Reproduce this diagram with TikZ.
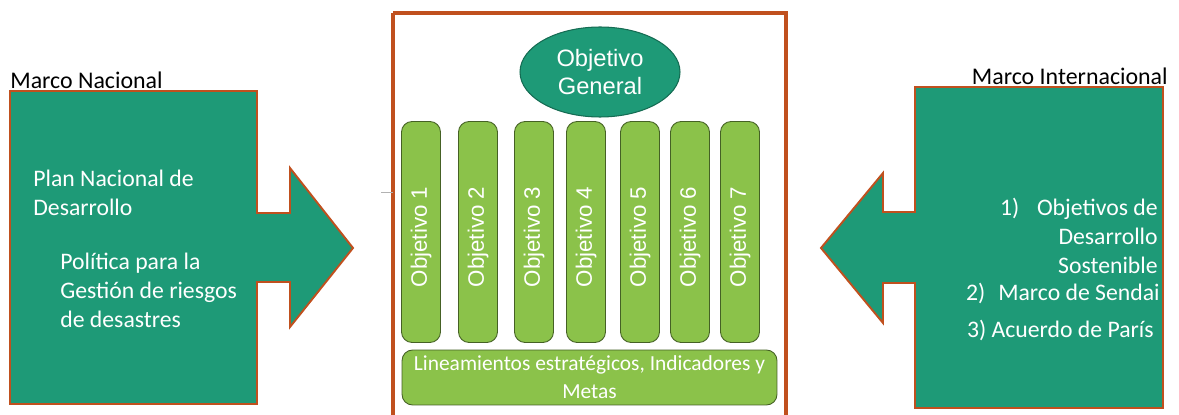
\documentclass[tikz,border=0pt]{standalone}
\usepackage{fontspec}
\setmainfont{Carlito}
\newfontfamily\arialfont{Liberation Sans}
\usetikzlibrary{shapes.geometric}
\definecolor{teal1}{HTML}{1E9A77}
\definecolor{lime1}{HTML}{8BC24A}
\definecolor{rust}{HTML}{C0501E}
\tikzset{
  arrowbox/.style={fill=teal1,draw=rust,line width=1.1pt,line join=miter},
  frame/.style={draw=rust,line width=2pt},
  objbar/.style={fill=lime1,draw=lime1!50!black,line width=0.5pt,rounded corners=6pt,
    minimum width=0.78cm,minimum height=4.42cm,inner sep=0pt},
  objlabel/.style={rotate=90,inner sep=0pt,text=white,
    font=\arialfont\fontsize{12.7}{15}\selectfont},
  wtext/.style={text=white,font=\fontsize{13.5}{16.4}\selectfont,inner sep=0pt},
  title/.style={text=black,font=\fontsize{13.6}{16}\selectfont,inner sep=0pt}
}
\begin{document}
\begin{tikzpicture}[x=0.02cm,y=-0.02cm]
  \useasboundingbox (0,0) rectangle (1179,415);

  % left arrow: marco nacional
  \draw[arrowbox] (10,91) -- (257,91) -- (257,213) -- (290,213) -- (290,168)
     -- (353,248) coordinate (ntip) -- (290,327) -- (290,282) -- (257,282)
     -- (257,404) -- (10,404) -- cycle;
  \node[title,anchor=west] (nac) at (10,80) {Marco Nacional};
  \node[wtext,anchor=north west,align=left] (plan) at (33,170) {Plan Nacional de\\Desarrollo};
  \node[wtext,anchor=north west,align=left] (pol) at (60,253) {Política para la\\Gestión de riesgos\\de desastres};

  % right arrow: marco internacional
  \draw[arrowbox] (1163,87) -- (915,87) -- (915,212) -- (883,212) -- (883,173)
     -- (821,248) coordinate (itip) -- (883,323) -- (883,283) -- (915,283)
     -- (915,408) -- (1163,408) -- cycle;
  \node[title,anchor=east] (inter) at (1168,76) {Marco Internacional};
  \node[wtext,anchor=north east,align=right] (ods) at (1158,198)
     {1)\hspace{0.75em}Objetivos de\\Desarrollo\\Sostenible};
  \node[wtext,anchor=east] (sendai) at (1160,293) {2)\hspace{0.55em}Marco de Sendai};
  \node[wtext,anchor=east] (paris) at (1154,330) {3) Acuerdo de París};

  % central frame
  \draw[frame] (393,13) -- (393,417) (786,417) -- (786,13) -- (393,13);
  \draw[gray!60,line width=0.3pt] (381,192) -- (393,192);

  \node[ellipse,fill=teal1,draw=teal1!70!black,line width=0.6pt,minimum width=3.2cm,
    minimum height=1.8cm,inner sep=0pt,text=white,align=center,
    font=\arialfont\fontsize{13.5}{16}\selectfont] (gen) at (600,72) {Objetivo\\General};

  \foreach \cx [count=\i] in {421,478,534,586,640,690,740}{
    \node[objbar] (obj\i) at (\cx,232) {};
    \node[objlabel] (objtxt\i) at (\cx,237) {Objetivo \i};
  }

  \node[fill=lime1,draw=lime1!50!black,line width=0.5pt,rounded corners=6pt,
    minimum width=7.5cm,minimum height=1.1cm,inner sep=0pt,align=center,
    text=white,font=\fontsize{12.2}{16}\selectfont] (lin) at (589.5,377.5)
    {Lineamientos estratégicos, Indicadores y\\Metas};
\end{tikzpicture}
\end{document}
